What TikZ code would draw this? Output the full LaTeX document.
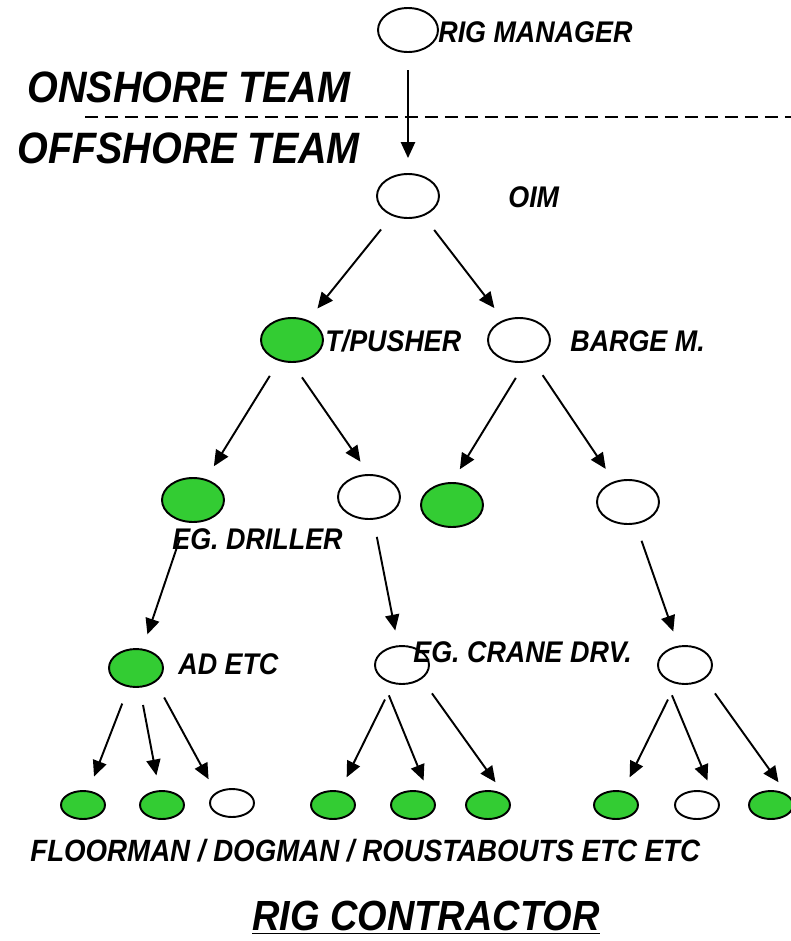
\documentclass[tikz,border=0pt]{standalone}
\usepackage{fontspec}
\usepackage{tikz}
\usetikzlibrary{shapes.geometric,arrows.meta}
\newfontfamily\rigfont[FakeStretch=0.9]{Liberation Sans}
\definecolor{staffgreen}{RGB}{51,204,51}
\tikzset{
  role/.style={shape=ellipse,draw=black,line width=1.1pt,fill=white,minimum width=1.24cm,minimum height=0.88cm,inner sep=0pt},
  crew/.style={shape=ellipse,draw=black,line width=1.1pt,fill=white,minimum width=0.88cm,minimum height=0.56cm,inner sep=0pt},
  lead/.style={role,minimum width=1.08cm,minimum height=0.76cm},
  green/.style={fill=staffgreen},
  lbl/.style={anchor=west,inner sep=0pt,font=\rigfont\bfseries\itshape\fontsize{17}{17}\selectfont},
  team/.style={anchor=west,inner sep=0pt,font=\rigfont\bfseries\itshape\fontsize{25}{25}\selectfont},
  arr/.style={-{Triangle[length=9pt,width=8pt]},line width=1.1pt,shorten <=0.35cm,shorten >=0.3cm}
}
\begin{document}
\begin{tikzpicture}[x=0.02cm,y=-0.02cm]
        \useasboundingbox (0,0) rectangle (791,941);
        % onshore / offshore split
        \node[team] (onshore) at (27,87){ONSHORE TEAM};
        \node[team] (offshore) at (17,148){OFFSHORE TEAM};
        \coordinate (splitL) at (85,117);
        \coordinate (splitR) at (791,117);
        \draw[line width=0.9pt,dash pattern=on 0.26cm off 0.14cm] (splitL) -- (splitR);
        % top of the tree
        \node[role,minimum width=1.2cm] (rigmgr) at (408,30){};
        \node[role] (oim) at (408,196){};
        \node[role,green] (tpush) at (292,340){};
        \node[role] (barge) at (519,340){};
        \node[role,green] (drill) at (193,500){};
        \node[role] (deck) at (369,497){};
        \node[role,green] (bargeA) at (452,505){};
        \node[role] (bargeB) at (628,502){};
        \node[lead,green] (ad) at (136,668){};
        \node[lead] (crane) at (402,665){};
        \node[lead] (bargeC) at (685,665){};
        % crew row
        \node[crew,green] (c1) at (83,805){};
        \node[crew,green] (c2) at (162,805){};
        \node[crew] (c3) at (232,803){};
        \node[crew,green] (c4) at (333,805){};
        \node[crew,green] (c5) at (413,805){};
        \node[crew,green] (c6) at (488,805){};
        \node[crew,green] (c7) at (616,805){};
        \node[crew] (c8) at (697,805){};
        \node[crew,green] (c9) at (771,805){};
        % labels
        \node[lbl] (rigmgrL) at (438,32){RIG MANAGER};
        \node[lbl] (oimL) at (508,197){OIM};
        \node[lbl] (tpushL) at (325,341){T/PUSHER};
        \node[lbl] (bargeL) at (570,341){BARGE M.};
        \node[lbl] (drillL) at (172,539){EG. DRILLER};
        \node[lbl] (adL) at (178,664){AD ETC};
        \node[lbl] (craneL) at (413,652){EG. CRANE DRV.};
        \node[lbl,font=\rigfont\bfseries\itshape\fontsize{17.5}{17.5}\selectfont] (crewL) at (30,851){FLOORMAN / DOGMAN / ROUSTABOUTS ETC ETC};
        \node[team,anchor=center,font=\rigfont\bfseries\itshape\fontsize{24}{24}\selectfont] (contractor) at (426,918){\underline{RIG CONTRACTOR}};
        % reporting lines
        \path[arr] (rigmgr) edge (oim);
        \path[arr] (oim) edge (tpush);
        \path[arr] (oim) edge (barge);
        \path[arr] (tpush) edge (drill);
        \path[arr] (tpush.south) edge (deck.north);
        \path[arr] ([xshift=0.12cm]barge.south) edge (bargeA.north);
        \path[arr] (barge) edge (bargeB);
        \path[arr] (drill) edge (ad);
        \path[arr] (deck) edge (crane);
        \path[arr] (bargeB) edge (bargeC);
        \path[arr] (ad) edge (c1);
        \path[arr] (ad) edge (c2);
        \path[arr] (ad.south east) edge (c3.north west);
        \path[arr] (crane) edge (c4);
        \path[arr] (crane.south west) edge (c5.north east);
        \path[arr] (crane.south east) edge (c6.north east);
        \path[arr] (bargeC) edge (c7);
        \path[arr] (bargeC.south west) edge (c8.north east);
        \path[arr] (bargeC.south east) edge (c9.north east);
\end{tikzpicture}
\end{document}
